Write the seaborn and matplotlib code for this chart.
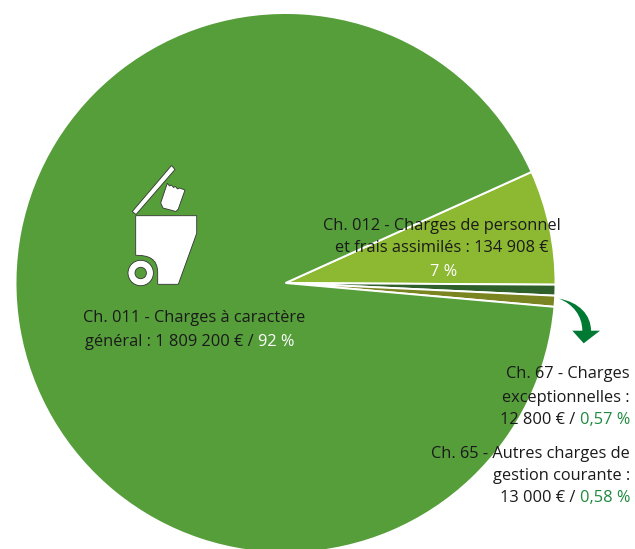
import matplotlib
matplotlib.use("Agg")
import matplotlib.pyplot as plt
import seaborn as sns
from matplotlib.patches import Circle, PathPatch, Polygon
from matplotlib.path import Path

# Budget chapters, clockwise from the top edge of the Ch. 012 slice
chapters = ["Ch. 012", "Ch. 67", "Ch. 65", "Ch. 011"]
amounts = [134908, 12800, 13000, 1809200]
slice_colors = ["#8cb832", "#2f5f2a", "#7a8420", "#559e3a"]

WIDTH, HEIGHT = 635, 549
FONT = "Open Sans"
FONT_SIZE = 11.8
BLACK = "#1a1a1a"
ACCENT = "#1e8a3e"


def fy(y):
    # the positions below are measured from the top of the image
    return HEIGHT - y


def mixed_line(ax, parts, x, y, align):
    # draw coloured runs side by side, as one line of text
    renderer = ax.figure.canvas.get_renderer()
    items = []
    total = 0
    for content, color in parts:
        t = ax.text(0, fy(y + 1.5), content, color=color, family=FONT, fontsize=FONT_SIZE, ha="left", va="center")
        w = t.get_window_extent(renderer).width
        items.append((t, w))
        total += w
    start = x - total if align == "right" else x - total / 2
    for t, w in items:
        t.set_x(start)
        start += w


sns.set_theme(style="white")
plt.rcParams["font.family"] = [FONT, "DejaVu Sans"]
plt.rcParams["text.parse_math"] = False

fig = plt.figure(figsize=(WIDTH / 100, HEIGHT / 100), dpi=100)
ax = fig.add_axes([0, 0, 1, 1])

ax.pie(
    amounts,
    colors=slice_colors,
    startangle=24.3,
    counterclock=False,
    center=(285.5, fy(283)),
    radius=270,
    wedgeprops={"edgecolor": "white", "linewidth": 1.4},
)
ax.set_xlim(0, WIDTH)
ax.set_ylim(0, HEIGHT)
ax.set_aspect("equal")
ax.axis("off")

# Bin icon
icon = dict(facecolor="white", edgecolor="#333333", linewidth=0.6)
body = Path(
    [(135.7, fy(215.7)), (196.7, fy(215.7)), (196.7, fy(233.3)), (178.3, fy(284.3)), (157.7, fy(284.3)),
     (157.7, fy(273)), (157.7, fy(258)), (148, fy(255.3)), (135.7, fy(255.3)), (135.7, fy(215.7))],
    [Path.MOVETO, Path.LINETO, Path.LINETO, Path.LINETO, Path.LINETO,
     Path.LINETO, Path.CURVE4, Path.CURVE4, Path.CURVE4, Path.CLOSEPOLY],
)
ax.add_patch(PathPatch(body, **icon))
ax.add_patch(Polygon([(132.3, fy(211.5)), (136, fy(214.5)), (175, fy(169.5)), (171.5, fy(165.5))], **icon))
paper_top = [(167.3, 183.3), (169.5, 186), (171.5, 185), (173.5, 187.5), (175.5, 186.5), (177.5, 189), (179.5, 188), (185, 190)]
paper_rest = [(178.3, 209), (176, 211.5), (163, 208), (160.7, 203)]
ax.add_patch(Polygon([(x, fy(y)) for x, y in paper_top + paper_rest], **icon))
ax.add_patch(Circle((140.7, fy(273)), 12.7, **icon))
ax.add_patch(Circle((140.7, fy(273)), 5.7, facecolor="#559e3a", edgecolor="#333333", linewidth=0.6))

# Arrow from the two small slices to their labels
arrow = Path(
    [(559, fy(298.7)), (579, fy(302)), (591, fy(315)), (591, fy(330.7)), (600, fy(330.7)), (583.7, fy(343.3)),
     (572.3, fy(330.7)), (582.3, fy(330.7)), (582.3, fy(316)), (573, fy(304)), (559, fy(298.7)), (559, fy(298.7))],
    [Path.MOVETO, Path.CURVE4, Path.CURVE4, Path.CURVE4, Path.LINETO, Path.LINETO,
     Path.LINETO, Path.LINETO, Path.CURVE4, Path.CURVE4, Path.CURVE4, Path.CLOSEPOLY],
)
ax.add_patch(PathPatch(arrow, facecolor="#007a33", edgecolor="none"))

fig.canvas.draw()

mixed_line(ax, [("Ch. 011 - Charges à caractère", BLACK)], 194.5, 316, "center")
mixed_line(ax, [("général : 1 809 200 € / ", BLACK), ("92 %", "white")], 190, 340, "center")
mixed_line(ax, [("Ch. 012 - Charges de personnel", BLACK)], 442, 224, "center")
mixed_line(ax, [("et frais assimilés : 134 908 €", BLACK)], 442, 247, "center")
mixed_line(ax, [("7 %", "white")], 444, 270, "center")
mixed_line(ax, [("Ch. 67 - Charges", BLACK)], 630, 373, "right")
mixed_line(ax, [("exceptionnelles :", BLACK)], 630, 396, "right")
mixed_line(ax, [("12 800 € / ", BLACK), ("0,57 %", ACCENT)], 630, 418, "right")
mixed_line(ax, [("Ch. 65 - Autres charges de", BLACK)], 630, 453, "right")
mixed_line(ax, [("gestion courante :", BLACK)], 630, 475, "right")
mixed_line(ax, [("13 000 € / ", BLACK), ("0,58 %", ACCENT)], 630, 497, "right")

fig.savefig("out.png", dpi=100, facecolor="white")
